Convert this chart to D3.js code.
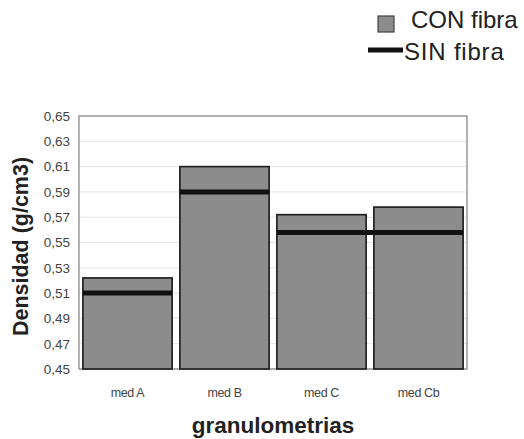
<!DOCTYPE html>
<html>
<head>
<meta charset="utf-8">
<script src="https://cdn.jsdelivr.net/npm/d3@7"></script>
<style>
  body { margin: 0; background: #fff; }
  text { font-family: "Liberation Sans", Arial, sans-serif; }
</style>
</head>
<body>
<div id="chart"></div>
<script>
// Data
const categories = ["med A", "med B", "med C", "med Cb"];
const conFibra = [0.522, 0.610, 0.572, 0.578];
const sinFibra = [0.510, 0.590, 0.558, 0.558];
const yTicks = [0.45, 0.47, 0.49, 0.51, 0.53, 0.55, 0.57, 0.59, 0.61, 0.63, 0.65];

const W = 524, H = 439;
const margin = { top: 116, right: 57, bottom: 70, left: 79 };
const width = W - margin.left - margin.right;
const height = H - margin.top - margin.bottom;

const svg = d3.select("#chart").append("svg")
    .attr("width", W)
    .attr("height", H);

const chart = svg.append("g")
    .attr("transform", `translate(${margin.left},${margin.top})`);

// Scales
const x = d3.scaleBand()
    .domain(categories)
    .range([0, width])
    .paddingInner(0.08)
    .paddingOuter(0.04);

const y = d3.scaleLinear()
    .domain([0.45, 0.65])
    .range([height, 0]);

// Gridlines
chart.append("g")
    .selectAll("line")
    .data(yTicks)
    .join("line")
    .attr("x1", 0)
    .attr("x2", width)
    .attr("y1", d => y(d))
    .attr("y2", d => y(d))
    .attr("stroke", "#e4e4e4")
    .attr("stroke-width", 1);

// Plot border
chart.append("rect")
    .attr("width", width)
    .attr("height", height)
    .attr("fill", "none")
    .attr("stroke", "#8a8a8a")
    .attr("stroke-width", 1.3);

// Y axis labels
const yAxis = chart.append("g")
    .call(d3.axisLeft(y).tickValues(yTicks).tickSize(0).tickPadding(9)
        .tickFormat(d => d3.format(".2f")(d).replace(".", ",")));
yAxis.select(".domain").remove();
yAxis.selectAll("text")
    .style("font-size", "13.5px")
    .attr("fill", "#444");

// X axis labels
const xAxis = chart.append("g")
    .attr("transform", `translate(0,${height})`)
    .call(d3.axisBottom(x).tickSize(0).tickPadding(19));
xAxis.select(".domain").remove();
xAxis.selectAll("text")
    .style("font-size", "12.5px")
    .style("letter-spacing", "-0.4px")
    .attr("fill", "#444");

// CON fibra bars
chart.selectAll("rect.bar")
    .data(categories)
    .join("rect")
    .attr("class", "bar")
    .attr("x", d => x(d))
    .attr("y", (d, i) => y(conFibra[i]))
    .attr("width", x.bandwidth())
    .attr("height", (d, i) => y(0.45) - y(conFibra[i]))
    .attr("fill", "#8c8c8c")
    .attr("stroke", "#1a1a1a")
    .attr("stroke-width", 1.6);

// SIN fibra: one flat segment per category, joined where neighbours are equal
const sinPts = [];
categories.forEach((c, i) => {
    sinPts.push([x(c), sinFibra[i]]);
    sinPts.push([x(c) + x.bandwidth(), sinFibra[i]]);
    if (i < categories.length - 1 && sinFibra[i + 1] !== sinFibra[i]) sinPts.push(null);
});
chart.append("path")
    .datum(sinPts)
    .attr("fill", "none")
    .attr("stroke", "#111")
    .attr("stroke-width", 5)
    .attr("d", d3.line()
        .defined(p => p !== null)
        .x(p => p[0])
        .y(p => y(p[1])));

// Axis titles
svg.append("text")
    .attr("transform", `translate(28,${margin.top + height / 2 + 4}) rotate(-90)`)
    .attr("text-anchor", "middle")
    .style("font-size", "21.5px")
    .style("font-weight", "bold")
    .attr("fill", "#222")
    .text("Densidad (g/cm3)");

svg.append("text")
    .attr("x", margin.left + width / 2)
    .attr("y", 433)
    .attr("text-anchor", "middle")
    .style("font-size", "22.5px")
    .style("font-weight", "bold")
    .attr("fill", "#222")
    .text("granulometrias");

// Legend
const legend = svg.append("g");
legend.append("rect")
    .attr("x", 378)
    .attr("y", 16)
    .attr("width", 16)
    .attr("height", 16)
    .attr("fill", "#8c8c8c")
    .attr("stroke", "#444")
    .attr("stroke-width", 1.2);
legend.append("text")
    .attr("x", 411)
    .attr("y", 28)
    .style("font-size", "24px")
    .attr("fill", "#222")
    .text("CON fibra");
legend.append("line")
    .attr("x1", 368)
    .attr("x2", 403)
    .attr("y1", 50)
    .attr("y2", 50)
    .attr("stroke", "#111")
    .attr("stroke-width", 5);
legend.append("text")
    .attr("x", 404)
    .attr("y", 60)
    .style("font-size", "24px")
    .style("letter-spacing", "0.8px")
    .attr("fill", "#222")
    .text("SIN fibra");
</script>
</body>
</html>
